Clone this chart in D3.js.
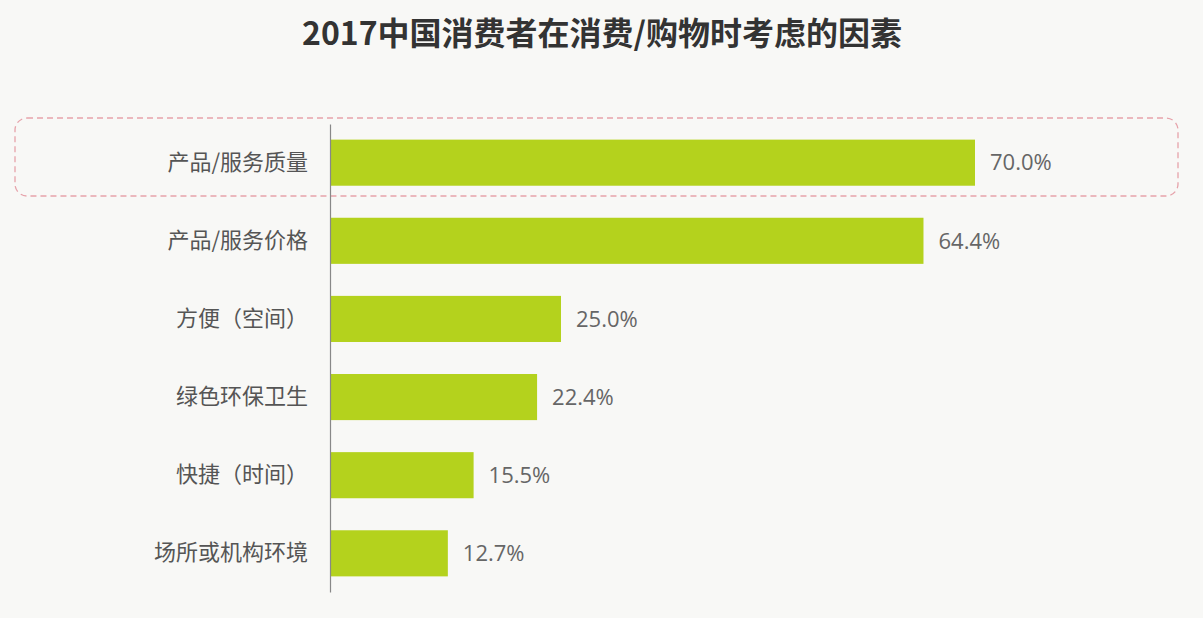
<!DOCTYPE html>
<html><head><meta charset="utf-8">
<script src="https://cdn.jsdelivr.net/npm/d3@7/dist/d3.min.js"></script>
<style>
body{margin:0;background:#f8f8f6;}
svg{display:block;font-family:"Noto Sans CJK SC","Open Sans",sans-serif;}
</style></head><body>
<svg id="chart" width="1203" height="618"></svg>
<script>
const title = "2017中国消费者在消费/购物时考虑的因素";
const categories = ["产品/服务质量","产品/服务价格","方便（空间）","绿色环保卫生","快捷（时间）","场所或机构环境"];
const values = [70.0, 64.4, 25.0, 22.4, 15.5, 12.7];

const svg = d3.select("#chart");
svg.append("rect").attr("width",1203).attr("height",618).attr("fill","#f8f8f6");

svg.append("text").attr("x",602).attr("y",45).attr("text-anchor","middle")
  .attr("font-size",32).attr("font-weight","bold").attr("fill","#333").text(title);

const x0 = 331;
const x = d3.scaleLinear().domain([0,70]).range([x0, 975]);
const y = d3.scaleBand().domain(categories).range([124, 592]).paddingInner(0.41).paddingOuter(0.2);

// highlight box
svg.append("rect").attr("x",15).attr("y",118).attr("width",1163).attr("height",78)
  .attr("rx",12).attr("fill","none").attr("stroke","#e6a2aa").attr("stroke-width",1.3)
  .attr("stroke-dasharray","6,4");

svg.selectAll(".bar").data(values).join("rect").attr("class","bar")
  .attr("x",x0).attr("y",(d,i)=>y(categories[i]))
  .attr("width",d=>x(d)-x0).attr("height",y.bandwidth())
  .attr("fill","#b4d21d");

const axis = d3.axisLeft(y).tickSize(0).tickPadding(22);
const g = svg.append("g").attr("transform",`translate(${x0-1},0)`).call(axis);
g.select(".domain").attr("stroke","#888").attr("stroke-width",1.2);
g.selectAll("text").attr("font-size",22).attr("fill","#555")
  .attr("font-family","'Noto Sans CJK SC',sans-serif");

svg.selectAll(".val").data(values).join("text").attr("class","val")
  .attr("x",d=>x(d)+15).attr("y",(d,i)=>y(categories[i])+y.bandwidth()/2)
  .attr("dy","0.35em").attr("font-size",22).attr("fill","#666")
  .attr("font-family","'Open Sans',sans-serif")
  .text(d=>d.toFixed(1)+"%");
</script>
</body></html>
